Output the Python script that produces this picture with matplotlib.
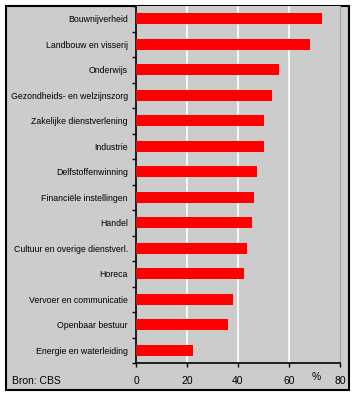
import matplotlib.pyplot as plt
from matplotlib.patches import Rectangle
import numpy as np

# sectors, top to bottom
sectors = [
    "Bouwnijverheid",
    "Landbouw en visserij",
    "Onderwijs",
    "Gezondheids- en welzijnszorg",
    "Zakelijke dienstverlening",
    "Industrie",
    "Delfstoffenwinning",
    "Financiële instellingen",
    "Handel",
    "Cultuur en overige dienstverl.",
    "Horeca",
    "Vervoer en communicatie",
    "Openbaar bestuur",
    "Energie en waterleiding",
]
values = [72.8, 68.1, 56.0, 53.2, 50.1, 50.1, 47.3, 46.1, 45.4, 43.4, 42.2, 37.9, 35.9, 22.2]
xticks = [0, 20, 40, 60, 80]

W, H = 356, 396
plt.rcParams['font.family'] = ['Liberation Sans', 'DejaVu Sans']
fig = plt.figure(figsize=(W / 100, H / 100), dpi=100)
fig.patch.set_facecolor("white")

# grey framed panel behind the axes
fig.patches.append(Rectangle((6 / W, 1 - 390 / H), 343 / W, 384 / H,
                             transform=fig.transFigure, facecolor="#cccccc",
                             edgecolor="black", linewidth=1.5, zorder=-1))

ax = fig.add_axes([136 / W, 1 - 363 / H, 204 / W, 357 / H])
ax.set_zorder(1)
ax.set_facecolor("#cccccc")

y = np.arange(len(sectors))
ax.barh(y, values, height=0.42, color="#ff0000", zorder=3)
ax.set_ylim(len(sectors) - 0.5, -0.5)
ax.set_xlim(0, 80)

ax.set_yticks(y)
ax.set_yticklabels(sectors, fontsize=6.3)
ax.set_yticks(np.arange(len(sectors) + 1) - 0.5, minor=True)
ax.tick_params(axis="y", which="major", length=0, pad=6)
ax.tick_params(axis="y", which="minor", length=3, width=1, direction="out")

ax.set_xticks(xticks)
ax.set_xticklabels([str(t) for t in xticks], fontsize=7.5)
ax.tick_params(axis="x", length=3, width=1, direction="out", pad=6)

for t in xticks[1:-1]:
    ax.axvline(t, color="white", linewidth=1.2, zorder=1)

ax.spines["top"].set_visible(False)
ax.spines["right"].set_color("#a0a0a0")
ax.spines["left"].set_linewidth(1.2)
ax.spines["bottom"].set_linewidth(1.2)

fig.text(316 / W, 1 - 377 / H, "%", fontsize=7.5, ha="center", va="center")
fig.text(12 / W, 1 - 381 / H, "Bron: CBS", fontsize=7.5, ha="left", va="center")

fig.savefig("out.png", dpi=100)
